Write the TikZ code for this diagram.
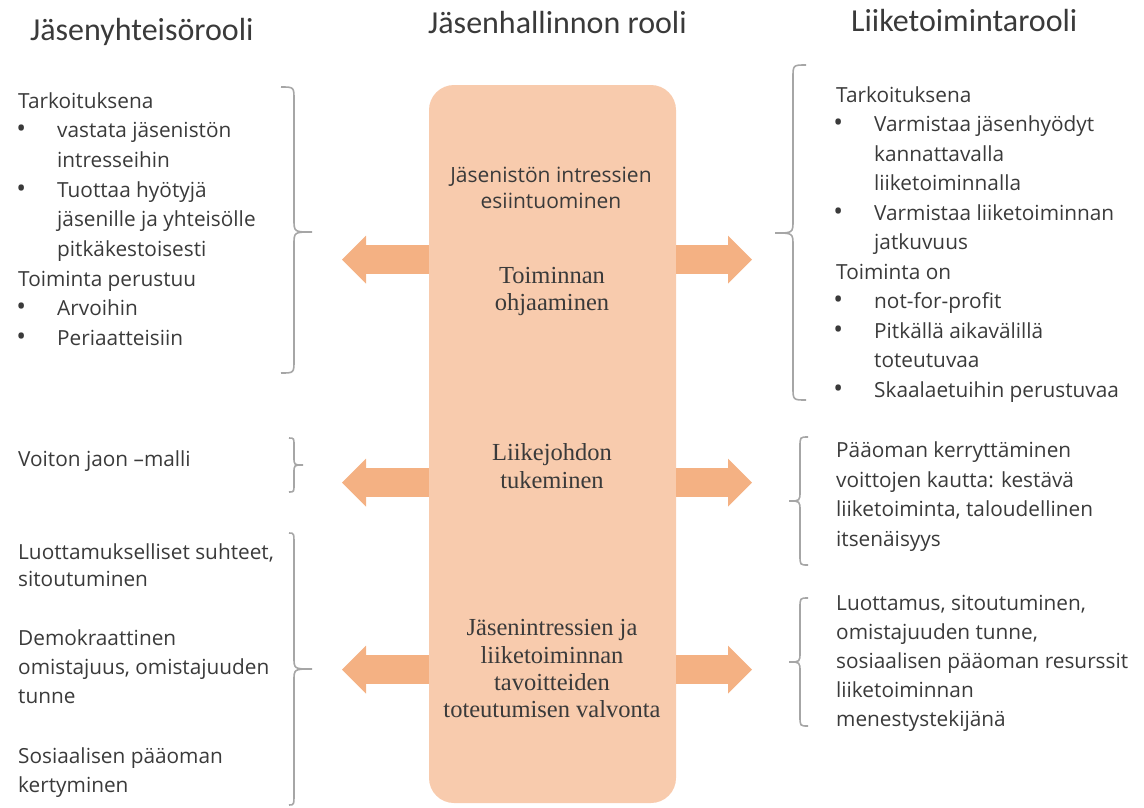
\documentclass[tikz,border=0pt]{standalone}
\usepackage{fontspec}
\setmainfont{Open Sans}
\newfontfamily\hdfont{Carlito}
\newfontfamily\serfont{Liberation Serif}
\usetikzlibrary{arrows.meta}
\definecolor{boxc}{HTML}{F8CBAD}
\definecolor{arrc}{HTML}{F4B183}
\definecolor{txtc}{HTML}{3A3A3A}
\definecolor{brcc}{HTML}{A6A6A6}
\newcommand\bul{\llap{\scalebox{1.25}{\textbullet}\hspace{31pt}}}
\newcommand\brc[7]{\draw[brcline] (#1,#4) .. controls (#2,#4) .. (#2,{#4+#7}) -- (#2,{#5-#7}) .. controls (#2,#5) .. (#3,#5) .. controls (#2,#5) .. (#2,{#5+#7}) -- (#2,{#6-#7}) .. controls (#2,#6) .. (#1,#6);}
\tikzset{
  side/.style={font=\fontsize{20.8}{24}\selectfont, text=txtc, inner sep=0pt, anchor=base west},
  hd/.style={font=\hdfont\fontsize{32}{36}\selectfont, text=txtc, inner sep=0pt, anchor=base west},
  cs/.style={font=\fontsize{21}{24}\selectfont, text=txtc, inner sep=0pt, anchor=base},
  cser/.style={font=\serfont\fontsize{24.5}{28}\selectfont, text=txtc, inner sep=0pt, anchor=base},
  blk/.style={draw=arrc, line width=29pt, -{Triangle[width=48pt,length=24pt,line width=0pt]}},
  brcline/.style={draw=brcc, line width=1.6pt},
  bigbox/.style={fill=boxc, rounded corners=25pt, minimum width=247pt, minimum height=718pt, inner sep=0pt}
}
\begin{document}
\begin{tikzpicture}[x=1pt, y=-1pt]
\useasboundingbox (0,0) rectangle (1144,807);
% headers
\node[hd] (h1) at (30,40) {Jäsenyhteisörooli};
\node[hd] (h2) at (428,33) {Jäsenhallinnon rooli};
\node[hd] (h3) at (851,31) {Liiketoimintarooli};
% central box
\node[bigbox] (box) at (552.5,444) {};
% arrows
\coordinate (aL1) at (342,259.5);
\coordinate (aL2) at (342,482.5);
\coordinate (aL3) at (342,669.5);
\coordinate (aR1) at (752,259.5);
\coordinate (aR2) at (752,482.5);
\coordinate (aR3) at (752,669.5);
\foreach \k in {1,2,3}{
  \draw[blk] (box.west |- aL\k) -- (aL\k);
  \draw[blk] (box.east |- aR\k) -- (aR\k);
}
% central texts
\foreach \y/\t [count=\i] in {182/Jäsenistön intressien, 208/esiintuominen}
  \node[cs] (cs\i) at (551,\y) {\t};
\foreach \y/\t [count=\i] in {283/Toiminnan, 310/ohjaaminen, 460/Liikejohdon, 488/tukeminen, 635/Jäsenintressien ja, 663/liiketoiminnan, 690/tavoitteiden, 717/toteutumisen valvonta}
  \node[cser] (cr\i) at (552,\y) {\t};
% left texts
\foreach \x/\y/\t [count=\i] in {
  18/108/Tarkoituksena,
  57/137.7/{\bul vastata jäsenistön},
  57/167.4/intresseihin,
  57/197.1/{\bul Tuottaa hyötyjä},
  57/226.8/jäsenille ja yhteisölle,
  57/256.5/pitkäkestoisesti,
  18/286.2/Toiminta perustuu,
  57/315.9/{\bul Arvoihin},
  57/345.6/{\bul Periaatteisiin},
  18/466/Voiton jaon –malli,
  18/559/{Luottamukselliset suhteet,},
  18/586.5/sitoutuminen,
  18/645/Demokraattinen,
  18/674.5/{omistajuus, omistajuuden},
  18/703/tunne,
  18/763/Sosiaalisen pääoman,
  18/792.5/kertyminen}
  \node[side] (L\i) at (\x,\y) {\t};
% right texts
\foreach \x/\y/\t [count=\i] in {
  836/102/Tarkoituksena,
  874/131.5/{\bul Varmistaa jäsenhyödyt},
  874/161/kannattavalla,
  874/190.5/liiketoiminnalla,
  874/220/{\bul Varmistaa liiketoiminnan},
  874/249.5/jatkuvuus,
  836/279/Toiminta on,
  874/308.5/{\bul not-for-profit},
  874/338/{\bul Pitkällä aikavälillä},
  874/367.5/toteutuvaa,
  874/397/{\bul Skaalaetuihin perustuvaa},
  836/457/Pääoman kerryttäminen,
  836/487/voittojen kautta: kestävä,
  836/516/{liiketoiminta, taloudellinen},
  836/546/itsenäisyys,
  836/610/{Luottamus, sitoutuminen,},
  836/639/{omistajuuden tunne,},
  836/668/sosiaalisen pääoman resurssit,
  836/697/liiketoiminnan,
  836/726/menestystekijänä}
  \node[side] (R\i) at (\x,\y) {\t};
% braces
\brc{281}{294}{312}{87}{232}{373}{13}
\brc{289}{294}{303}{438}{465}{492}{8}
\brc{289}{294}{312}{533}{669}{805}{12}
\brc{806}{793}{775}{65}{233}{400}{13}
\brc{808}{800}{789}{437}{501}{565}{10}
\brc{808}{800}{789}{598}{662}{726}{10}
\end{tikzpicture}
\end{document}
